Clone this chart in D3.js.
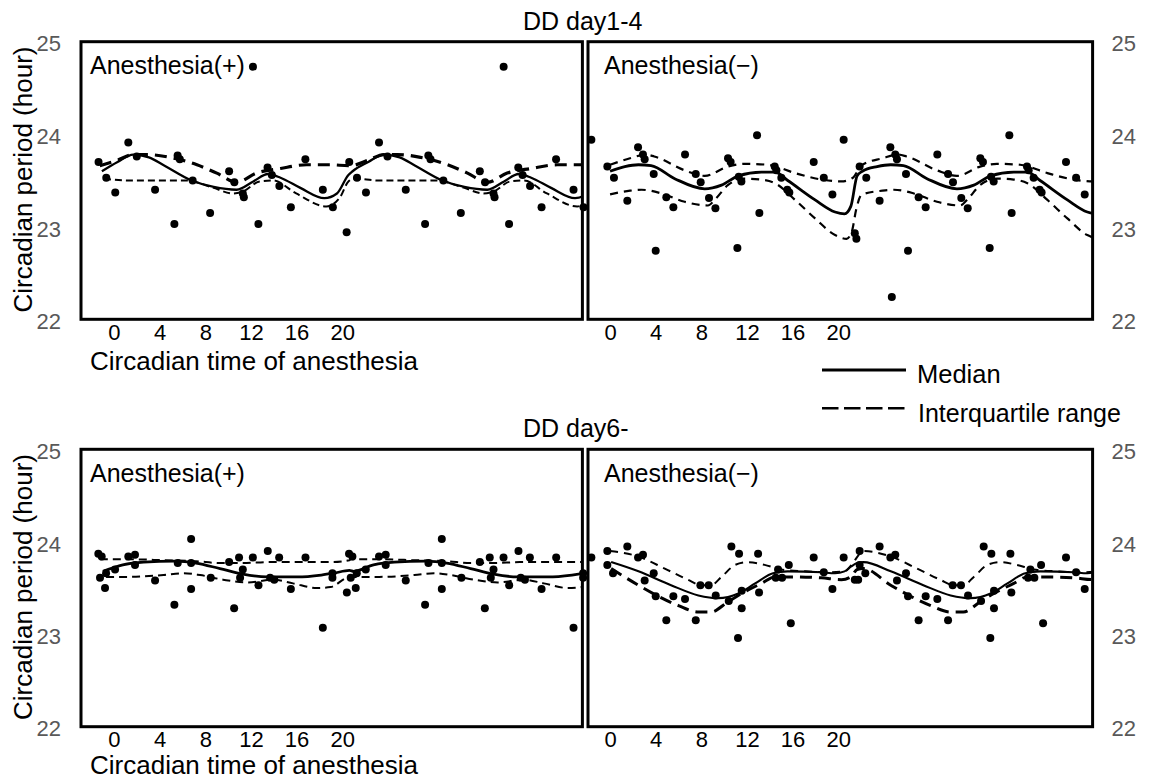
<!DOCTYPE html>
<html><head><meta charset="utf-8">
<script src="https://cdn.jsdelivr.net/npm/d3@7"></script>
<style>
body{margin:0;background:#fff}
svg text{font-family:"Liberation Sans",Arial,Helvetica,sans-serif}
</style>
</head><body>
<svg id="chart" width="1155" height="779"></svg>
<script>
// ---------- DATA (one 24 h cycle per panel; plotted twice, at t and t+24) ----------
const rowTitles = ["DD day1-4", "DD day6-"];
const panelLabels = ["Anesthesia(+)", "Anesthesia(\u2212)"];
const yTicks = [22, 23, 24, 25];
const xTicks = [0, 4, 8, 12, 16, 20];
const yTitle = "Circadian period (hour)";
const xTitle = "Circadian time of anesthesia";
const legendLabels = ["Median", "Interquartile range"];

// Top-left: DD day1-4, Anesthesia(+)
const tlHours  = [-1.32,-0.58,0.28,1.53,2.34,4.09,5.94,6.25,6.46,7.69,9.36,11.18,11.68,12.49,12.59,13.46,13.98,14.86,15.27,15.99,17.09,18.48,20.15,21.11,22.43];
const tlValues = [23.70,23.53,23.37,23.91,23.76,23.40,23.03,23.77,23.73,23.50,23.15,23.60,23.48,23.36,23.32,24.73,23.03,23.64,23.56,23.44,23.21,23.73,23.40,23.21,22.94];
const tlMedianH = [-1.0,0.5,2.0,3.5,5.0,7.6,9.7,11.9,13.5,14.9,16.1,18.0,20.3,21.5,22.6];
const tlMedianV = [23.60,23.70,23.78,23.75,23.66,23.50,23.43,23.40,23.49,23.57,23.53,23.42,23.31,23.36,23.56];
const tlUpperH = [-1.2,0.5,2.0,3.3,5.5,8.1,10.0,11.9,13.8,16.1,18.6,20.9,22.6];
const tlUpperV = [23.66,23.72,23.78,23.78,23.75,23.67,23.58,23.48,23.58,23.63,23.67,23.67,23.66];
const tlLowerH = [-0.8,1.5,4.0,7.0,9.7,11.5,12.5,14.1,15.4,17.6,20.5,21.8,22.6];
const tlLowerV = [23.52,23.50,23.50,23.50,23.42,23.36,23.38,23.49,23.50,23.36,23.22,23.32,23.49];

// Top-right: DD day1-4, Anesthesia(-)
const trHours  = [-2.68,-1.16,-0.53,0.74,1.76,2.23,2.39,3.25,3.44,4.45,5.12,6.23,7.25,7.72,8.51,9.12,10.32,10.57,11.21,11.34,11.59,13.08,13.30,14.76,14.92,15.39,15.96,16.15,18.47,19.43,20.25,22.38,22.53];
const trValues = [23.94,23.65,23.53,23.28,23.86,23.78,23.73,23.57,22.74,23.32,23.21,23.78,23.57,23.48,23.31,23.20,23.74,23.70,22.77,23.54,23.49,23.99,23.15,23.65,23.61,23.53,23.40,23.37,23.70,23.53,23.35,22.93,22.87];
const trExtraHours  = [25.9];
const trExtraValues = [22.24];
const trMedianH = [-0.9,0.5,1.8,3.0,5.25,8.1,9.7,11.3,13.5,14.8,16.0,18.6,20.5,21.4,22.0,22.6];
const trMedianV = [23.60,23.65,23.67,23.66,23.52,23.41,23.45,23.55,23.59,23.59,23.50,23.29,23.16,23.14,23.22,23.55];
const trUpperH = [-0.9,1.0,2.5,3.3,6.2,8.1,10.3,11.9,14.1,16.7,19.2,21.1,22.2,22.8];
const trUpperV = [23.67,23.74,23.78,23.76,23.61,23.55,23.65,23.68,23.67,23.58,23.51,23.49,23.53,23.63];
const trLowerH = [-0.9,1.0,2.1,4.0,6.2,8.4,9.2,10.3,11.9,13.5,14.8,16.7,18.6,20.5,21.6,22.1,22.5,22.9];
const trLowerV = [23.35,23.39,23.40,23.36,23.27,23.23,23.31,23.45,23.52,23.51,23.47,23.29,23.09,22.91,22.87,22.95,23.18,23.33];

// Bottom-left: DD day6-, Anesthesia(+)
const blHours  = [-1.34,-1.02,-1.18,-0.60,-0.70,0.26,1.53,2.17,2.17,4.09,5.94,6.26,7.54,7.54,7.54,9.42,11.18,11.66,12.13,12.23,12.49,13.45,13.99,14.88,15.10,15.50,15.97,17.09,18.49,20.15,21.07,21.07,22.45];
const blValues = [23.87,23.84,23.61,23.66,23.50,23.70,23.84,23.86,23.75,23.58,23.32,23.77,24.03,23.77,23.49,23.61,23.78,23.28,23.83,23.61,23.70,23.83,23.53,23.90,23.61,23.59,23.83,23.49,23.83,23.07,23.66,23.61,23.45];
const blMedianH = [-0.9,1.0,3.0,6.0,8.0,10.3,12.5,14.8,17.7,20.0,21.2,22.7];
const blMedianV = [23.68,23.75,23.78,23.79,23.77,23.71,23.65,23.62,23.62,23.64,23.66,23.69];
const blUpperH = [-1.2,2.0,5.0,8.0,10.3,12.5,15.0,18.0,21.0,22.7];
const blUpperV = [23.81,23.81,23.80,23.79,23.77,23.77,23.78,23.78,23.78,23.80];
const blLowerH = [-0.6,1.5,4.9,6.8,8.4,10.6,12.9,15.4,17.3,19.6,20.9,22.5];
const blLowerV = [23.62,23.62,23.64,23.66,23.64,23.59,23.56,23.59,23.55,23.50,23.51,23.61];

// Bottom-right: DD day6-, Anesthesia(-)
const brHours  = [-2.68,-1.16,-1.16,-0.62,0.74,1.76,2.23,2.39,3.25,3.44,4.45,5.12,6.23,7.25,7.69,8.48,9.15,10.39,10.64,11.27,11.37,11.62,11.62,13.18,13.27,14.86,15.08,15.46,16.10,16.29,18.47,19.43,20.25,22.38,22.70];
const brValues = [23.83,23.90,23.75,23.66,23.95,23.83,23.86,23.58,23.66,23.41,23.15,23.41,23.38,23.15,23.53,23.53,23.42,23.36,23.95,22.96,23.87,23.47,23.28,23.87,23.45,23.61,23.70,23.61,23.75,23.12,23.83,23.67,23.49,23.59,23.59];
const brMedianH = [-0.8,1.8,4.9,7.5,9.4,11.3,12.9,14.6,16.0,19.2,20.5,21.4,22.0,22.6];
const brMedianV = [23.78,23.68,23.53,23.42,23.39,23.44,23.55,23.66,23.68,23.67,23.66,23.68,23.73,23.77];
const brUpperH = [-0.9,1.8,4.3,6.5,7.8,8.7,9.7,11.0,12.2,13.8,15.4,17.6,19.8,21.4,22.2,22.7];
const brUpperV = [23.90,23.84,23.71,23.59,23.53,23.53,23.62,23.75,23.78,23.75,23.70,23.68,23.67,23.68,23.77,23.85];
const brLowerH = [-0.8,1.8,3.7,5.6,7.5,8.7,10.3,11.6,13.5,14.8,16.5,19.2,21.1,22.0,22.6];
const brLowerV = [23.71,23.53,23.41,23.31,23.24,23.24,23.35,23.44,23.55,23.62,23.62,23.61,23.59,23.62,23.70];

// ---------- LAYOUT ----------
const svg = d3.select("#chart");
const FONT = '"Liberation Sans",Arial,Helvetica,sans-serif';
const rows = [{y0: 41.7, y1: 319.3, titleY: 30, labelY: 74, xTitleY: 370},
              {y0: 449.3, y1: 726.7, titleY: 437, labelY: 481.5, xTitleY: 774}];
const cols = [{x0: 81, x1: 582.4, tick0: -2.89}, {x0: 588, x1: 1092.6, tick0: -1.93}];
const tickUnitPx = 11.41;

const panels = [
  {r:0,c:0,h:tlHours,v:tlValues,eh:[],ev:[],m:[tlMedianH,tlMedianV],u:[tlUpperH,tlUpperV],l:[tlLowerH,tlLowerV],
   mw:2.3, us:{w:3.2,d:"12,7"}, ls:{w:2,d:"7,4"}},
  {r:0,c:1,h:trHours,v:trValues,eh:trExtraHours,ev:trExtraValues,m:[trMedianH,trMedianV],u:[trUpperH,trUpperV],l:[trLowerH,trLowerV],
   mw:2.8, us:{w:2.2,d:"8,6"}, ls:{w:2.2,d:"8,6"}},
  {r:1,c:0,h:blHours,v:blValues,eh:[],ev:[],m:[blMedianH,blMedianV],u:[blUpperH,blUpperV],l:[blLowerH,blLowerV],
   mw:2.8, us:{w:2,d:"8,5"}, ls:{w:2,d:"8,5"}},
  {r:1,c:1,h:brHours,v:brValues,eh:[],ev:[],m:[brMedianH,brMedianV],u:[brUpperH,brUpperV],l:[brLowerH,brLowerV],
   mw:2.1, us:{w:2,d:"8,6"}, ls:{w:3,d:"12,7"}}
];

const tMax = 45.3;

panels.forEach((p, i) => {
  const row = rows[p.r], col = cols[p.c];
  const x = d3.scaleLinear().domain([-3, 45]).range([col.x0, col.x1]);
  const y = d3.scaleLinear().domain([22, 25]).range([row.y1, row.y0]);
  const g = svg.append("g");

  const clipId = "clip" + i;
  svg.append("clipPath").attr("id", clipId).append("rect")
    .attr("x", col.x0).attr("y", row.y0).attr("width", col.x1 - col.x0).attr("height", row.y1 - row.y0);

  // double-plot lines
  const line = d3.line().x(d => x(d[0])).y(d => y(d[1])).curve(d3.curveMonotoneX);
  const dbl = (H, V) => {
    const a = H.map((h, k) => [h, V[k]]);
    return a.concat(a.map(d => [d[0] + 24, d[1]])).filter(d => d[0] <= 48);
  };
  const lg = g.append("g").attr("clip-path", `url(#${clipId})`);
  lg.append("path").attr("d", line(dbl(p.u[0], p.u[1]))).attr("fill", "none").attr("stroke", "#000")
    .attr("stroke-width", p.us.w).attr("stroke-dasharray", p.us.d);
  lg.append("path").attr("d", line(dbl(p.l[0], p.l[1]))).attr("fill", "none").attr("stroke", "#000")
    .attr("stroke-width", p.ls.w).attr("stroke-dasharray", p.ls.d);
  lg.append("path").attr("d", line(dbl(p.m[0], p.m[1]))).attr("fill", "none").attr("stroke", "#000")
    .attr("stroke-width", p.mw);

  // points (double-plotted)
  const pts = [];
  p.h.forEach((h, k) => { pts.push([h, p.v[k]]); if (h + 24 <= tMax) pts.push([h + 24, p.v[k]]); });
  p.eh.forEach((h, k) => pts.push([h, p.ev[k]]));
  g.append("g").selectAll("circle").data(pts).join("circle")
    .attr("cx", d => x(d[0])).attr("cy", d => y(d[1])).attr("r", 4).attr("fill", "#000");

  // frame
  g.append("rect").attr("x", col.x0).attr("y", row.y0).attr("width", col.x1 - col.x0).attr("height", row.y1 - row.y0)
    .attr("fill", "none").attr("stroke", "#000").attr("stroke-width", 3);

  // x tick labels
  const tickScale = d3.scaleLinear().domain([col.tick0, col.tick0 + (col.x1 - col.x0) / tickUnitPx]).range([col.x0, col.x1]);
  const gx = svg.append("g").attr("transform", `translate(0,${row.y1})`)
    .call(d3.axisBottom(tickScale).tickValues(xTicks).tickSize(0).tickPadding(5).tickFormat(d3.format("d")));
  gx.select(".domain").remove();
  gx.selectAll("text").style("font-size", "22px").style("font-family", FONT).attr("fill", "#000");

  // y tick labels
  if (p.c === 0) {
    const gy = svg.append("g").attr("transform", `translate(${col.x0},0)`)
      .call(d3.axisLeft(y).tickValues(yTicks).tickSize(0).tickPadding(20).tickFormat(d3.format("d")));
    gy.select(".domain").remove();
    gy.selectAll("text").style("font-size", "22px").style("font-family", FONT).attr("fill", "#595959").attr("dy", "0.42em");
    svg.append("text").attr("transform", `translate(32,${(row.y0 + row.y1) / 2 - 1}) rotate(-90)`)
      .attr("text-anchor", "middle").style("font-size", "26px").attr("fill", "#000").text(yTitle);
    svg.append("text").attr("x", 90).attr("y", row.xTitleY).style("font-size", "26px").attr("fill", "#000").text(xTitle);
  } else {
    const gy = svg.append("g").attr("transform", `translate(${col.x1},0)`)
      .call(d3.axisRight(y).tickValues(yTicks).tickSize(0).tickPadding(19).tickFormat(d3.format("d")));
    gy.select(".domain").remove();
    gy.selectAll("text").style("font-size", "22px").style("font-family", FONT).attr("fill", "#595959").attr("dy", "0.42em");
  }

  // panel label
  svg.append("text").attr("x", col.x0 + (p.c === 0 ? 9 : 16)).attr("y", row.labelY)
    .style("font-size", "25px").attr("fill", "#000").text(panelLabels[p.c]);
});

// row titles
rows.forEach((row, k) => {
  svg.append("text").attr("x", 523).attr("y", row.titleY).style("font-size", "25px").attr("fill", "#000").text(rowTitles[k]);
});

// legend
const leg = svg.append("g");
leg.append("line").attr("x1", 822).attr("x2", 906).attr("y1", 370).attr("y2", 370).attr("stroke", "#000").attr("stroke-width", 3);
leg.append("text").attr("x", 917).attr("y", 383.3).style("font-size", "25.5px").attr("fill", "#000").text(legendLabels[0]);
leg.append("line").attr("x1", 822).attr("x2", 906).attr("y1", 408.3).attr("y2", 408.3).attr("stroke", "#000").attr("stroke-width", 2.6).attr("stroke-dasharray", "16.5,5.5");
leg.append("text").attr("x", 918).attr("y", 421.7).style("font-size", "25px").attr("fill", "#000").text(legendLabels[1]);
</script>
</body></html>
